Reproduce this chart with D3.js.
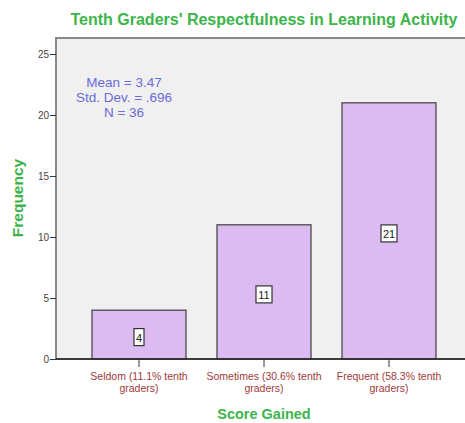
<!DOCTYPE html>
<html>
<head>
<meta charset="utf-8">
<script src="https://cdn.jsdelivr.net/npm/d3@7"></script>
<style>
  body { margin: 0; background: #fff; }
  svg { display: block; }
</style>
</head>
<body>
<script>
const categories = ["Seldom (11.1% tenth graders)", "Sometimes (30.6% tenth graders)", "Frequent (58.3% tenth graders)"];
const labelLines = [["Seldom (11.1% tenth", "graders)"], ["Sometimes (30.6% tenth", "graders)"], ["Frequent (58.3% tenth", "graders)"]];
const frequencies = [4, 11, 21];
const yTicks = [0, 5, 10, 15, 20, 25];
const statsLines = ["Mean = 3.47", "Std. Dev. = .696", "N = 36"];

const width = 465, height = 423;
const plotLeft = 56, plotTop = 38, plotRight = 472, plotBottom = 359;
const sans = "Arial, 'Liberation Sans', sans-serif";
const green = "#3cb44a";

let svg = d3.select("body").append("svg")
    .attr("width", width)
    .attr("height", height);

let x = d3.scaleBand()
    .domain(categories)
    .range([plotLeft, plotRight])
    .paddingInner(0.248)
    .paddingOuter(0.288);

let y = d3.scaleLinear()
    .domain([0, 25])
    .range([plotBottom, 54]);

// plot area
svg.append("rect")
    .attr("x", plotLeft)
    .attr("y", plotTop)
    .attr("width", plotRight - plotLeft)
    .attr("height", plotBottom - plotTop)
    .style("fill", "#f0f0f0")
    .style("stroke", "#888")
    .style("stroke-width", 2);

// bars
svg.selectAll("rect.bar")
    .data(frequencies)
    .enter()
    .append("rect")
    .attr("class", "bar")
    .attr("x", (d, i) => x(categories[i]))
    .attr("y", d => y(d))
    .attr("width", x.bandwidth())
    .attr("height", d => y(0) - y(d))
    .style("fill", "#dcbaf2")
    .style("stroke", "#4a4a4a")
    .style("stroke-width", 1.3);

// value boxes
let boxes = svg.selectAll("g.val")
    .data(frequencies)
    .enter()
    .append("g")
    .attr("class", "val")
    .attr("transform", (d, i) => `translate(${x(categories[i]) + x.bandwidth() / 2},${(y(d) + y(0)) / 2 + 3})`);

boxes.append("rect")
    .attr("x", d => d >= 10 ? -8 : -5)
    .attr("y", -9)
    .attr("width", d => d >= 10 ? 16 : 10)
    .attr("height", 17)
    .style("fill", "#fff")
    .style("stroke", "#333")
    .style("stroke-width", 1.2);

boxes.append("text")
    .attr("text-anchor", "middle")
    .attr("y", 4)
    .style("font-family", sans)
    .style("font-size", "11px")
    .style("fill", "#222")
    .text(d => d);

// y axis
let yAxis = svg.append("g")
    .attr("transform", `translate(${plotLeft},0)`)
    .call(d3.axisLeft(y).tickValues(yTicks).tickSize(6).tickPadding(1));
yAxis.select(".domain").remove();
yAxis.selectAll("line").style("stroke", "#333");
yAxis.selectAll("text")
    .style("font-family", sans)
    .style("font-size", "10px")
    .style("fill", "#444");

// x axis
let xAxis = svg.append("g")
    .attr("transform", `translate(0,${plotBottom})`)
    .call(d3.axisBottom(x).tickSize(8).tickFormat(""));
xAxis.select(".domain").remove();
xAxis.selectAll("line").style("stroke", "#333");

svg.append("line")
    .attr("x1", plotLeft).attr("x2", plotRight)
    .attr("y1", plotBottom).attr("y2", plotBottom)
    .style("stroke", "#222")
    .style("stroke-width", 1.3);

// x category labels
let catLabels = svg.selectAll("text.cat")
    .data(categories)
    .enter()
    .append("text")
    .attr("class", "cat")
    .attr("text-anchor", "middle")
    .style("font-family", sans)
    .style("font-size", "10.5px")
    .style("fill", "#9e3a3a");

catLabels.selectAll("tspan")
    .data((d, i) => labelLines[i])
    .enter()
    .append("tspan")
    .attr("x", function () { let c = d3.select(this.parentNode).datum(); return x(c) + x.bandwidth() / 2; })
    .attr("y", (d, j) => 380 + j * 12)
    .text(d => d);

// stats
svg.selectAll("text.stat")
    .data(statsLines)
    .enter()
    .append("text")
    .attr("class", "stat")
    .attr("x", 124)
    .attr("y", (d, i) => 87 + i * 15)
    .attr("text-anchor", "middle")
    .style("font-family", sans)
    .style("font-size", "13.5px")
    .style("fill", "#6a6ad8")
    .text(d => d);

// titles
svg.append("text")
    .attr("x", 264)
    .attr("y", 25)
    .attr("text-anchor", "middle")
    .style("font-family", sans)
    .style("font-weight", "bold")
    .style("font-size", "16px")
    .style("fill", green)
    .text("Tenth Graders' Respectfulness in Learning Activity");

svg.append("text")
    .attr("x", 264)
    .attr("y", 419)
    .attr("text-anchor", "middle")
    .style("font-family", sans)
    .style("font-weight", "bold")
    .style("font-size", "14.5px")
    .style("fill", green)
    .text("Score Gained");

svg.append("text")
    .attr("transform", "translate(23,198) rotate(-90)")
    .attr("text-anchor", "middle")
    .style("font-family", sans)
    .style("font-weight", "bold")
    .style("font-size", "15.5px")
    .style("fill", green)
    .text("Frequency");
</script>
</body>
</html>
